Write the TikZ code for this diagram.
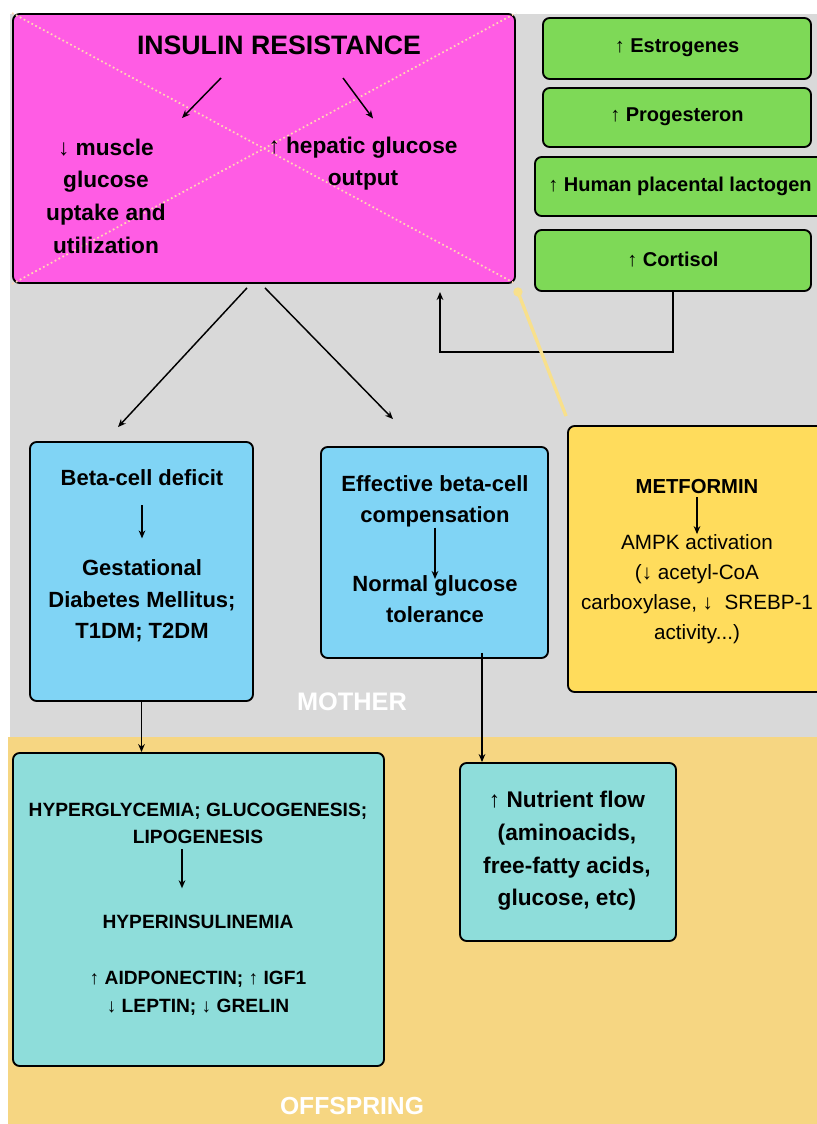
\documentclass[tikz,border=0pt]{standalone}
\usepackage{fontspec}
\setmainfont{Liberation Sans}
\usetikzlibrary{arrows.meta,fit}

\definecolor{motherback}{RGB}{217,217,217}
\definecolor{offback}{RGB}{246,214,130}
\definecolor{irpink}{RGB}{255,92,228}
\definecolor{hormgreen}{RGB}{126,217,87}
\definecolor{cellblue}{RGB}{128,212,245}
\definecolor{metyellow}{RGB}{255,220,92}
\definecolor{fetalteal}{RGB}{142,221,218}
\definecolor{crossline}{RGB}{255,212,180}
\definecolor{fadeline}{RGB}{248,224,140}

\tikzset{
  panel/.style={draw=black, line width=1.4pt, rounded corners=5pt, inner sep=0pt},
  lbl/.style={align=center, inner sep=0pt, font=\bfseries\fontsize{16.5}{23.5}\selectfont},
  arr/.style={line width=1.1pt, -{Stealth[length=6pt,width=5pt]}},
}

\begin{document}
\begin{tikzpicture}[x=0.75pt,y=-0.75pt]
    \useasboundingbox (0,0) rectangle (817,1124);
    \clip (0,0) rectangle (817,1124);

    %Backgrounds
    \fill[motherback] (10,14) rectangle (817,737);
    \fill[offback] (8,737) rectangle (817,1124);

    %Boxes
    \node[panel, fill=irpink, fit={(13,14) (515,283)}] (ir) {};
    \draw[crossline, line width=1.3pt, dotted] (ir.north west) -- (ir.south east);
    \draw[crossline, line width=1.3pt, dotted] (ir.south west) -- (ir.north east);
    \node[panel, fill=hormgreen, fit={(543,18) (811,79)}] (estro) {};
    \node[panel, fill=hormgreen, fit={(543,88) (811,147)}] (proges) {};
    \node[panel, fill=hormgreen, fit={(535,157) (830,216)}] (hpl) {};
    \node[panel, fill=hormgreen, fit={(535,230) (811,291)}] (cortisol) {};
    \node[panel, fill=cellblue, fit={(30,442) (253,701)}] (beta) {};
    \node[panel, fill=cellblue, fit={(321,447) (548,658)}] (effective) {};
    \node[panel, fill=metyellow, fit={(568,426) (830,692)}] (metformin) {};
    \node[panel, fill=fetalteal, fit={(13,753) (384,1066)}] (hyper) {};
    \node[panel, fill=fetalteal, fit={(460,763) (676,941)}] (nutrient) {};

    % Text Node
    \node[lbl, font=\bfseries\fontsize{20}{24}\selectfont] (irtitle) at (279,45) {INSULIN RESISTANCE};
    \node[lbl, font=\bfseries\fontsize{17}{24.5}\selectfont] (muscle) at (106,196) {↓ muscle\\glucose\\uptake and\\utilization};
    \node[lbl, font=\bfseries\fontsize{17}{24.5}\selectfont] (hepatic) at (363,163.5) {↑ hepatic glucose\\output};
    \node[lbl, font=\bfseries\fontsize{15}{20}\selectfont] (estrotxt) at (677,48) {↑ Estrogenes};
    \node[lbl, font=\bfseries\fontsize{15}{20}\selectfont] (progestxt) at (677,117) {↑ Progesteron};
    \node[lbl, font=\bfseries\fontsize{15}{20}\selectfont] (hpltxt) at (680,186) {↑ Human placental lactogen};
    \node[lbl, font=\bfseries\fontsize{15}{20}\selectfont] (cortisoltxt) at (673,260) {↑ Cortisol};
    \node[lbl] (betatop) at (142,478) {Beta-cell deficit};
    \node[lbl] (betabot) at (142,601) {Gestational\\Diabetes Mellitus;\\T1DM; T2DM};
    \node[lbl] (efftop) at (435,501.5) {Effective beta-cell\\compensation};
    \node[lbl] (effbot) at (435,599) {Normal glucose\\tolerance};
    \node[lbl, font=\bfseries\fontsize{15.2}{22}\selectfont] (mettop) at (697,487) {METFORMIN};
    \node[lbl, font=\fontsize{15.5}{22.5}\selectfont] (metbot) at (697,589) {AMPK activation\\(↓ acetyl-CoA\\carboxylase, ↓~~SREBP-1\\activity...)};
    \node[lbl, font=\bfseries\fontsize{14.4}{20.3}\selectfont] (hyptop) at (198,823.5) {HYPERGLYCEMIA; GLUCOGENESIS;\\LIPOGENESIS};
    \node[lbl, font=\bfseries\fontsize{14.4}{20.3}\selectfont] (hypmid) at (198,922) {HYPERINSULINEMIA};
    \node[lbl, font=\bfseries\fontsize{14.4}{21}\selectfont] (hypbot) at (198,993) {↑ AIDPONECTIN; ↑ IGF1\\↓ LEPTIN; ↓ GRELIN};
    \node[lbl, font=\bfseries\fontsize{17}{24.5}\selectfont] (nutrienttxt) at (567,851) {↑ Nutrient flow\\(aminoacids,\\free-fatty acids,\\glucose, etc)};
    \node[lbl, white, font=\bfseries\fontsize{19}{22}\selectfont] (mother) at (352,702) {MOTHER};
    \node[lbl, white, font=\bfseries\fontsize{18.5}{22}\selectfont] (offspring) at (352,1106) {OFFSPRING};

    %Straight Lines
    \draw[arr] ([shift={(-58,33)}]irtitle.center) -- ([shift={(76,-78)}]muscle.center);
    \draw[arr] ([shift={(64,33)}]irtitle.center) -- ([shift={(10,-45)}]hepatic.center);
    \draw[arr] ([shift={(-17,4)}]ir.south) -- ([shift={(-23.5,-14)}]beta.north);
    \draw[arr] ([shift={(1,4)}]ir.south) -- ([shift={(-41.5,-27)}]effective.north);
    \coordinate (fbend) at (440,292);
    \draw[arr] (cortisol.south) -- (cortisol.south |- 0,352) -| (fbend);
    \draw[fadeline, line width=2.5pt] ([shift={(-1,-9)}]metformin.north west) -- ([shift={(2,8)}]ir.south east);
    \fill[fadeline] ([shift={(2,8)}]ir.south east) circle (3.5pt);
    \draw[arr, shorten <=14pt, shorten >=16pt] (betatop.south) -- (betabot.north);
    \draw[arr, shorten >=-3pt] (efftop.south) -- (effbot.north);
    \draw[arr, shorten <=2pt] (mettop.south) -- (metbot.north);
    \draw[arr, shorten <=4pt, shorten >=20pt] ([xshift=-12pt]hyptop.south) -- ([xshift=-12pt]hypmid.north);
    \draw[arr] (beta.south) -- (beta.south |- hyper.north);
    \draw[arr] ([yshift=4.5pt]effective.south -| 482,0) -- (nutrient.north -| 482,0);
\end{tikzpicture}
\end{document}
